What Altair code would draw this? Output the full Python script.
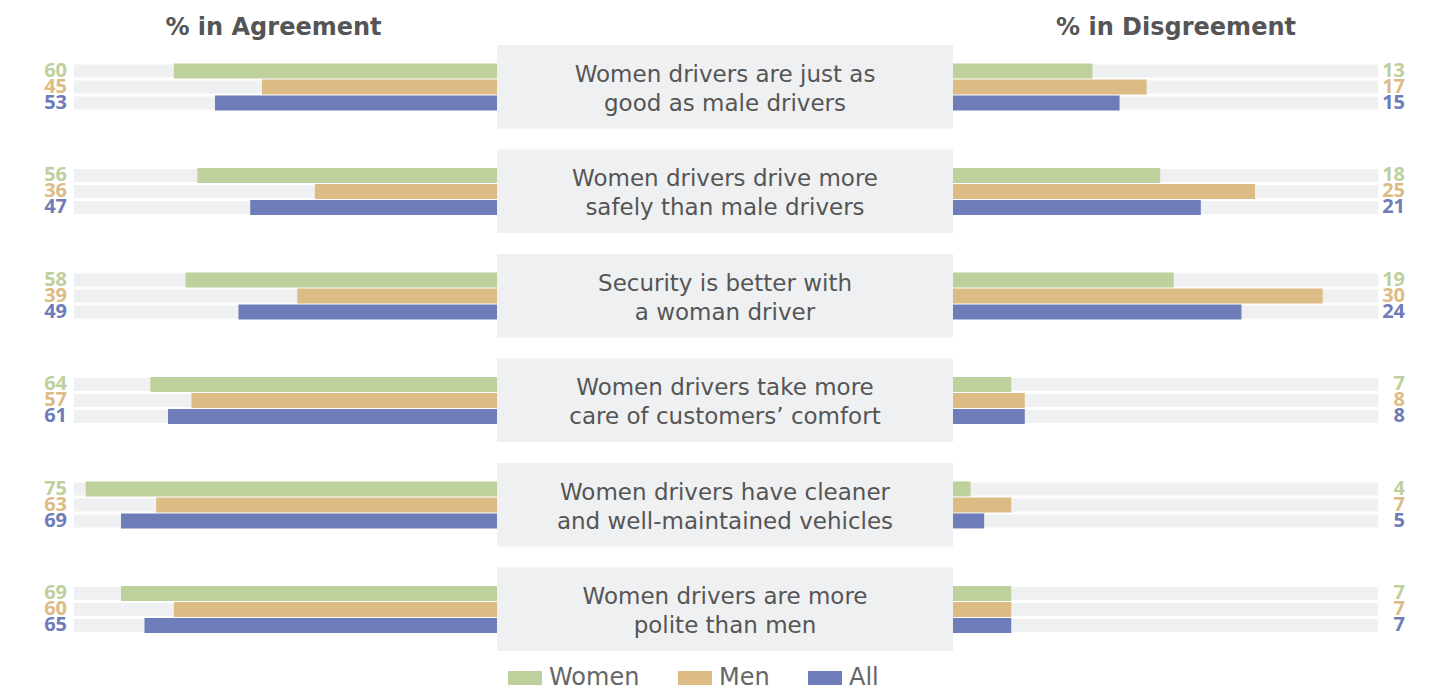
import altair as alt
import pandas as pd

questions = [
    "Women drivers are just as\ngood as male drivers",
    "Women drivers drive more\nsafely than male drivers",
    "Security is better with\na woman driver",
    "Women drivers take more\ncare of customers’ comfort",
    "Women drivers have cleaner\nand well-maintained vehicles",
    "Women drivers are more\npolite than men",
]
groups = ["Women", "Men", "All"]
colors = ["#bed09c", "#ddbb85", "#6e7cb9"]

agree_women = [60, 56, 58, 64, 75, 69]
agree_men = [45, 36, 39, 57, 63, 60]
agree_all = [53, 47, 49, 61, 69, 65]
disagree_women = [13, 18, 19, 7, 4, 7]
disagree_men = [17, 25, 30, 8, 7, 7]
disagree_all = [15, 21, 24, 8, 5, 7]

agree = {"Women": agree_women, "Men": agree_men, "All": agree_all}
disagree = {"Women": disagree_women, "Men": disagree_men, "All": disagree_all}

rows = []
for i, q in enumerate(questions):
    for g in groups:
        rows.append({"question": q, "group": g, "agree": agree[g][i], "disagree": disagree[g][i]})
df = pd.DataFrame(rows)
qdf = pd.DataFrame({"question": questions})

FONT = "DejaVu Sans"
NUMFONT = "Open Sans"
GREY_BOX = "#eff0f2"
TXT = "#555555"

Y = alt.Y("question:N", sort=questions, axis=None,
          scale=alt.Scale(paddingInner=0.2, paddingOuter=0))
YOFF = alt.YOffset("group:N", sort=groups,
                   scale=alt.Scale(paddingInner=0, paddingOuter=0, range=[18, 66]))
color_scale = alt.Scale(domain=groups, range=colors)

H = 606

# Left panel: agreement
l_base, l_end, l_max = 5, 77, 88.23
lscale = alt.Scale(domain=[l_base, l_max], reverse=True, nice=False, zero=False)
left_base = alt.Chart(df)
left_bg = left_base.mark_bar(color=GREY_BOX, height=13).encode(
    x=alt.X(datum=l_end, type="quantitative", scale=lscale, axis=None),
    x2=alt.datum(l_base), y=Y, yOffset=YOFF)
left_bar = left_base.mark_bar(height=15).encode(
    x=alt.X("agree:Q", scale=lscale, axis=None),
    x2=alt.datum(l_base), y=Y, yOffset=YOFF,
    color=alt.Color("group:N", scale=color_scale, sort=groups,
                    legend=alt.Legend(title=None, orient="none", direction="horizontal",
                                      legendX=500, legendY=616,
                                      symbolType="M-1,-0.41H1V0.41H-1Z", symbolSize=1156,
                                      symbolStrokeWidth=0, labelFontSize=24, labelFont=FONT,
                                      labelColor="#666666", labelOffset=7, columnPadding=38)))
left_txt = left_base.mark_text(align="right", baseline="middle", fontSize=20,
                               fontWeight="bold", font=NUMFONT).encode(
    x=alt.value(59), y=Y, yOffset=YOFF, text="agree:Q",
    color=alt.Color("group:N", scale=color_scale, legend=None))
left = alt.layer(left_bg, left_bar, left_txt).properties(
    width=489, height=H,
    title=alt.TitleParams("% in Agreement", fontSize=24, fontWeight="bold", color=TXT,
                          font=FONT, dx=21, offset=5))

# Middle panel: statements
mid_box = alt.Chart(qdf).mark_rect(color=GREY_BOX).encode(y=Y)
mid_txt = alt.Chart(qdf).mark_text(font=FONT, fontSize=23, color=TXT, lineBreak="\n",
                                   lineHeight=29, baseline="middle", align="center",
                                   dy=-12).encode(
    y=Y, x=alt.value(228), text="question:N")
mid = alt.layer(mid_box, mid_txt).properties(
    width=456, height=H,
    title=alt.TitleParams(" ", fontSize=24, fontWeight="bold", font=FONT, offset=5))

# Right panel: disagreement
r_base, r_end, r_max = 2.7, 34.1, 36.67
rscale = alt.Scale(domain=[r_base, r_max], nice=False, zero=False)
right_base = alt.Chart(df)
right_bg = right_base.mark_bar(color=GREY_BOX, height=13).encode(
    x=alt.X(datum=r_end, type="quantitative", scale=rscale, axis=None),
    x2=alt.datum(r_base), y=Y, yOffset=YOFF)
right_bar = right_base.mark_bar(height=15).encode(
    x=alt.X("disagree:Q", scale=rscale, axis=None),
    x2=alt.datum(r_base), y=Y, yOffset=YOFF,
    color=alt.Color("group:N", scale=color_scale, legend=None))
right_txt = right_base.mark_text(align="right", baseline="middle", fontSize=20,
                                 fontWeight="bold", font=NUMFONT).encode(
    x=alt.value(452), y=Y, yOffset=YOFF, text="disagree:Q",
    color=alt.Color("group:N", scale=color_scale, legend=None))
right = alt.layer(right_bg, right_bar, right_txt).properties(
    width=460, height=H,
    title=alt.TitleParams("% in Disgreement", fontSize=24, fontWeight="bold", color=TXT,
                          font=FONT, dx=-7, offset=5))

chart = alt.hconcat(left, mid, right, spacing=0).resolve_scale(color="shared").properties(
    padding={"left": 0, "top": 8, "right": 0, "bottom": 0}
).configure_view(stroke=None)

chart.save("out.html", embed_options={"renderer": "svg", "actions": False})
